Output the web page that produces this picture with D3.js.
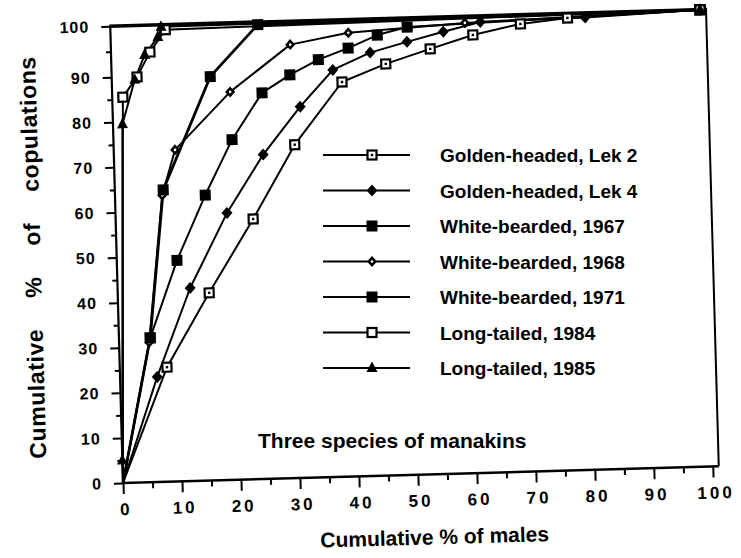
<!DOCTYPE html>
<html>
<head>
<meta charset="utf-8">
<script src="https://cdn.jsdelivr.net/npm/d3@7"></script>
<style>
  body { margin: 0; background: #fff; }
  svg { display: block; font-family: "Liberation Sans", Arial, Helvetica, sans-serif; font-weight: bold; }
</style>
</head>
<body>
<svg id="chart" width="741" height="558"></svg>
<script>
// series (x = cumulative % of males, y = cumulative % of copulations)
var golden2 = [[0,0],[8,25.4],[15.5,41.6],[23.3,57.7],[30.7,73.9],[39,87.5],[46.5,91.1],[54.1,93.8],[61.4,96.3],[69.5,98.2],[77.5,99.1],[100,100]];
var golden4 = [[0,0],[6.3,23.3],[12.3,42.8],[18.9,59.2],[25.3,71.9],[31.8,82.3],[37.5,90.2],[43.9,93.4],[50.2,95.3],[56.4,97.1],[62.7,98.8],[80.5,99.1],[100,100]];
var white67 = [[0,0],[5.3,32],[10.2,49],[15.3,63.3],[20.1,75.4],[25.4,85.6],[30.2,89.4],[35.1,92.3],[40.2,94.4],[45.2,96.8],[50.3,98.2],[100,100]];
var white68 = [[0,0],[5.1,31],[8,63.5],[10.4,73.5],[20,86],[30.4,95.4],[40.3,97.4],[60.1,98.7],[100,100]];
var white71 = [[0,0],[5.3,32],[8.2,64.7],[16.7,89.5],[25,99.5],[100,100]];
var long84 = [[0,0],[1.8,85.5],[4.3,89.9],[6.6,94.7],[9.3,99],[100,100]];
var long85 = [[0,0],[0,5],[1.6,79.5],[3.9,89.3],[5.7,94.2],[8,97.6],[8.6,99.6],[100,100]];

var seriesNames = ['Golden-headed, Lek 2', 'Golden-headed, Lek 4', 'White-bearded, 1967', 'White-bearded, 1968', 'White-bearded, 1971', 'Long-tailed, 1984', 'Long-tailed, 1985'];
var seriesData = [golden2, golden4, white67, white68, white71, long84, long85];
var seriesMarks = ['sqDot', 'diamond', 'sqFill', 'diamondDot', 'sqFill', 'sqOpen', 'triangle'];

var xTicks = d3.range(0, 101, 10);
var yTicks = d3.range(0, 101, 10);
var minorTicks = d3.range(5, 100, 10);

var svg = d3.select('#chart');

// the scan is tilted a little, so the plot sits in a rotated group
var plot = svg.append('g').attr('transform', 'translate(123,483) rotate(-1.6)');

var x = d3.scaleLinear().domain([0, 100]).range([0, 590]);
// top decade is drawn taller than the others in the original
var y = d3.scaleLinear().domain([0, 90, 100]).range([0, -406, -457]);

function styleAxis(g) {
  g.select('.domain').remove();
  g.selectAll('line').attr('stroke', '#000').attr('stroke-width', 2);
}

plot.append('g')
  .call(d3.axisBottom(x).tickValues(minorTicks).tickSize(6).tickFormat(''))
  .call(styleAxis);
plot.append('g')
  .call(d3.axisBottom(x).tickValues(xTicks).tickSize(11).tickPadding(9).tickFormat(d3.format('d')))
  .call(styleAxis)
  .selectAll('text')
  .attr('fill', '#000')
  .attr('font-size', 17)
  .attr('letter-spacing', 3)
  .attr('dx', 2);

plot.append('g')
  .call(d3.axisLeft(y).tickValues(minorTicks).tickSize(5).tickFormat(''))
  .call(styleAxis);
plot.append('g')
  .call(d3.axisLeft(y).tickValues(yTicks).tickSize(9).tickPadding(12).tickFormat(d3.format('d')))
  .call(styleAxis)
  .selectAll('text')
  .attr('fill', '#000')
  .attr('font-size', 16)
  .attr('letter-spacing', 1);

// frame
var fx = x(100) + 6, fy = y(100);
plot.append('line').attr('x1', 0).attr('y1', 0).attr('x2', fx).attr('y2', 0).attr('stroke', '#000').attr('stroke-width', 2.5);
plot.append('line').attr('x1', 0).attr('y1', 0).attr('x2', 0).attr('y2', fy).attr('stroke', '#000').attr('stroke-width', 2.2);
plot.append('line').attr('x1', -1).attr('y1', fy).attr('x2', fx + 1).attr('y2', fy).attr('stroke', '#000').attr('stroke-width', 3.5);
plot.append('line').attr('x1', fx).attr('y1', 0).attr('x2', fx).attr('y2', fy).attr('stroke', '#000').attr('stroke-width', 2);

var line = d3.line().x((d) => x(d[0])).y((d) => y(d[1]));

plot.selectAll('path.series')
  .data(seriesData)
  .enter().append('path')
  .attr('class', 'series')
  .attr('d', line)
  .attr('fill', 'none')
  .attr('stroke', '#000')
  .attr('stroke-width', (d, i) => i === 4 ? 2.8 : 2)
  .attr('stroke-linejoin', 'round');

function drawMark(g, type) {
  if (type === 'sqDot' || type === 'sqOpen') {
    g.append('rect').attr('x', -4.5).attr('y', -4.5).attr('width', 9).attr('height', 9)
      .attr('fill', '#fff').attr('stroke', '#000').attr('stroke-width', 2.2);
    if (type === 'sqDot') g.append('rect').attr('x', -1.2).attr('y', -1.2).attr('width', 2.4).attr('height', 2.4).attr('fill', '#000');
  } else if (type === 'sqFill') {
    g.append('rect').attr('x', -5.5).attr('y', -5.5).attr('width', 11).attr('height', 11).attr('fill', '#000');
  } else if (type === 'diamond') {
    g.append('path').attr('d', 'M0,-6L5.5,0L0,6L-5.5,0Z').attr('fill', '#000');
  } else if (type === 'diamondDot') {
    g.append('path').attr('d', 'M0,-5.5L5,0L0,5.5L-5,0Z').attr('fill', '#000');
    g.append('circle').attr('r', 1.3).attr('fill', '#fff');
  } else if (type === 'triangle') {
    g.append('path').attr('d', 'M0,-6.5L5.5,4L-5.5,4Z').attr('fill', '#000');
  }
}

seriesData.forEach(function(data, i) {
  plot.append('g')
    .selectAll('g')
    .data(data.slice(1))
    .enter().append('g')
    .attr('transform', (d) => 'translate(' + x(d[0]) + ',' + y(d[1]) + ')')
    .each(function() { drawMark(d3.select(this), seriesMarks[i]); });
});

// axis titles
plot.append('text')
  .attr('transform', 'translate(-76,-228) rotate(-90)')
  .attr('text-anchor', 'middle')
  .attr('font-size', 23)
  .attr('word-spacing', 24)
  .attr('letter-spacing', 0.6)
  .text('Cumulative % of copulations');

plot.append('text')
  .attr('x', 310)
  .attr('y', 70)
  .attr('text-anchor', 'middle')
  .attr('font-size', 21)
  .text('Cumulative % of males');

// legend
var legendY = d3.scaleLinear().domain([0, 6]).range([155, 368]);
var legend = svg.append('g');
seriesNames.forEach(function(name, i) {
  var row = legend.append('g').attr('transform', 'translate(0,' + legendY(i) + ')');
  row.append('line').attr('x1', 323).attr('x2', 410).attr('stroke', '#000').attr('stroke-width', 2);
  drawMark(row.append('g').attr('transform', 'translate(372,0)'), seriesMarks[i]);
  row.append('text').attr('x', 440).attr('y', 7).attr('font-size', 19).text(name);
});

svg.append('text')
  .attr('x', 258)
  .attr('y', 448)
  .attr('font-size', 21)
  .text('Three species of manakins');
</script>
</body>
</html>
